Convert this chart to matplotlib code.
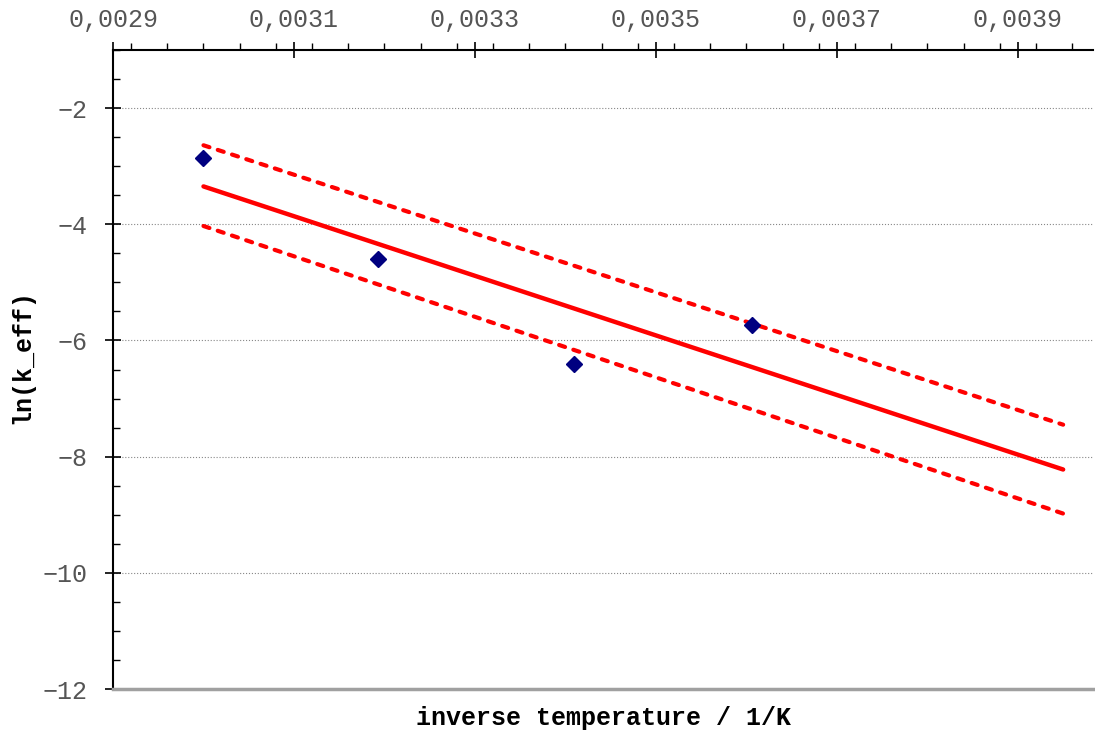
import numpy as np
import matplotlib
matplotlib.use("Agg")
import matplotlib.pyplot as plt
from matplotlib.ticker import MultipleLocator, FuncFormatter

# Messpunkte (inverse Temperatur, ln k_eff)
inv_T = [0.0030, 0.003193, 0.003409, 0.003606]
ln_k = [-2.86, -4.60, -6.40, -5.73]

# Bereich der Ausgleichsgeraden und Grenzlinien
fit_x = [0.0030, 0.00395]
upper_y = [-2.64, -7.45]
lower_y = [-4.03, -8.98]

# Achsenbeschriftung
x_ticks = [0.0029, 0.0031, 0.0033, 0.0035, 0.0037, 0.0039]
y_ticks = [-12, -10, -8, -6, -4, -2]

slope, icpt = np.polyfit(inv_T, ln_k, 1)
fit_y = [slope * x + icpt for x in fit_x]

fig = plt.figure(figsize=(10.95, 7.31), dpi=100)
ax = fig.add_axes([113 / 1095, 1 - 689 / 731, 980 / 1095, 639 / 731])

ax.plot(fit_x, upper_y, color="#ff0000", lw=3.0, linestyle=(0, (1.5, 2.1)),
        dash_capstyle="round", solid_capstyle="round")
ax.plot(fit_x, lower_y, color="#ff0000", lw=3.0, linestyle=(0, (1.5, 2.1)),
        dash_capstyle="round", solid_capstyle="round")
ax.plot(fit_x, fit_y, color="#ff0000", lw=3.2, solid_capstyle="round")
ax.plot(inv_T, ln_k, linestyle="none", marker="D", markersize=8,
        color="#000080", zorder=5)

ax.set_xlim(0.0029, 0.003983)
ax.set_ylim(-12, -1)

ax.xaxis.tick_top()
ax.set_xticks(x_ticks)
ax.xaxis.set_minor_locator(MultipleLocator(0.00004))
ax.xaxis.set_major_formatter(FuncFormatter(lambda v, p: f"{v:.4f}".replace(".", ",")))
ax.set_yticks(y_ticks)
ax.yaxis.set_minor_locator(MultipleLocator(0.5))

ax.tick_params(axis="x", which="major", direction="inout", length=12, width=1.2,
               pad=7, labelsize=18, labelcolor="#555555")
ax.tick_params(axis="x", which="minor", direction="out", length=5, width=1)
ax.tick_params(axis="y", which="major", direction="inout", length=12, width=1.2,
               pad=12, labelsize=18, labelcolor="#555555")
ax.tick_params(axis="y", which="minor", direction="in", length=5, width=1)
for lab in ax.get_xticklabels() + ax.get_yticklabels():
    lab.set_fontfamily("Liberation Mono")

ax.grid(True, axis="y", which="major", color="#888888", linestyle=":", lw=0.8)

ax.spines["right"].set_visible(False)
ax.spines["top"].set_linewidth(1.5)
ax.spines["left"].set_linewidth(1.5)
ax.spines["bottom"].set_color("#a0a0a0")
ax.spines["bottom"].set_linewidth(2.5)

ax.set_xlabel("inverse temperature / 1/K", fontfamily="Liberation Mono",
              fontweight="bold", fontsize=18)
ax.set_ylabel("ln(k_eff)", fontfamily="Liberation Mono",
              fontweight="bold", fontsize=18)
ax.xaxis.set_label_position("bottom")
ax.xaxis.set_label_coords(0.5, -0.026)
ax.yaxis.set_label_coords(-0.08, 0.52)

fig.savefig("out.png", dpi=100)
